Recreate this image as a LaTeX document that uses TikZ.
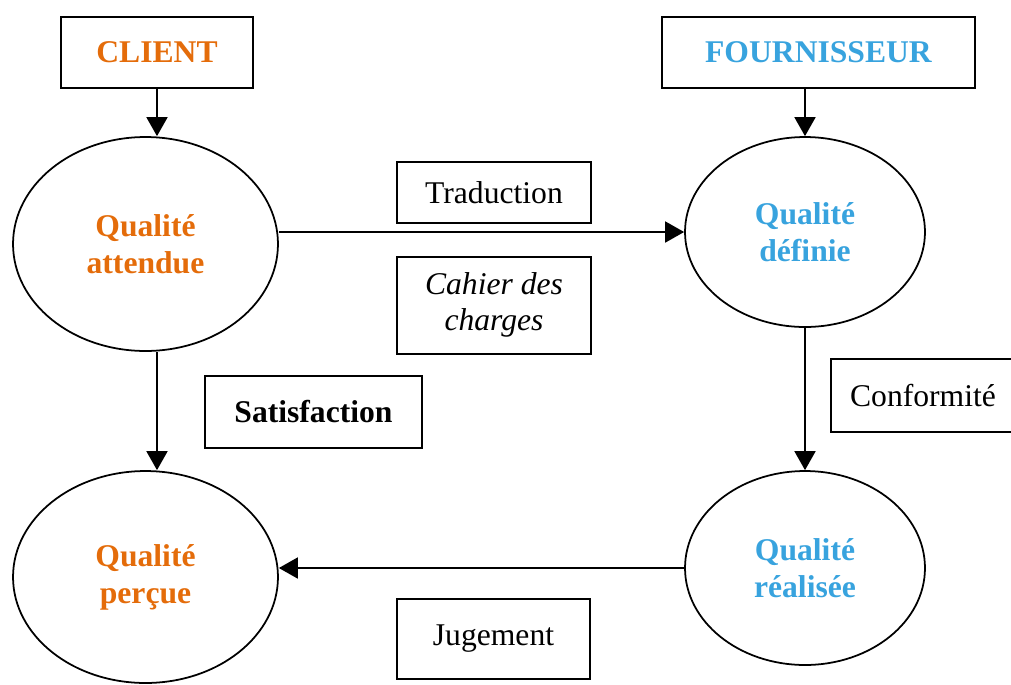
\documentclass[tikz,border=0pt]{standalone}
\usepackage{fontspec}
\setmainfont{Liberation Serif}
\usetikzlibrary{positioning, shapes.geometric, arrows.meta}

\definecolor{clientorange}{RGB}{228,108,10}
\definecolor{fournblue}{RGB}{56,163,222}

\begin{document}
\begin{tikzpicture}[
    x=0.02cm, y=-0.02cm,
    >={Triangle[length=0.38cm, width=0.42cm]},
    every node/.style={font=\fontsize{18}{21}\selectfont},
    % Styles
    actor/.style={ % Client / supplier boxes
        rectangle,
        draw,
        line width=1pt,
        minimum height=1.42cm,
        font=\fontsize{18}{21}\selectfont\bfseries
    },
    quality/.style={ % Quality ellipses
        ellipse,
        draw,
        line width=1pt,
        inner sep=0pt,
        align=center,
        font=\fontsize{18}{21}\selectfont\bfseries
    },
    step label/.style={ % Labels of the arrows
        rectangle,
        draw,
        line width=1pt,
        align=center,
        inner sep=0pt
    },
    arrow/.style={
        ->,
        line width=1pt
    }
]

    % Background frame
    \useasboundingbox (0,0) rectangle (1011,684);

    % Actors
    \node[actor, minimum width=3.84cm, text=clientorange] (client) at (157,52.5) {CLIENT};
    \node[actor, minimum width=6.26cm, text=fournblue] (fourn) at (818.5,52.5) {FOURNISSEUR};

    % Qualities
    \node[quality, minimum width=5.3cm, minimum height=4.28cm, text=clientorange]
        (attendue) at (145.5,244) {Qualité\\attendue};
    \node[quality, minimum width=4.8cm, minimum height=3.8cm, text=fournblue]
        (definie) at (805,232) {Qualité\\définie};
    \node[quality, minimum width=4.8cm, minimum height=3.88cm, text=fournblue]
        (realisee) at (805,568) {Qualité\\réalisée};
    \node[quality, minimum width=5.3cm, minimum height=4.24cm, text=clientorange]
        (percue) at (145.5,577) {Qualité\\perçue};

    % Arrows
    \draw[arrow] (client.south) -- (client.south |- attendue.north);
    \draw[arrow] (fourn.south -| definie.north) -- (definie.north);
    \draw[arrow] (definie.west -| attendue.east) -- (definie.west);
    \draw[arrow] (definie.south) -- (realisee.north);
    \draw[arrow] (realisee.west) -- (realisee.west -| percue.east);
    \draw[arrow] (client.south |- attendue.south) -- (client.south |- percue.north);

    % Labels
    \node[step label, minimum width=3.88cm, minimum height=1.22cm] (trad) at (494,192.5) {Traduction};
    \node[step label, minimum width=3.88cm, minimum height=1.94cm, below=0.64cm of trad,
        font=\fontsize{18}{20.5}\selectfont\itshape] (cahier) {Cahier des\\charges};
    \node[step label, minimum width=4.34cm, minimum height=1.44cm, font=\fontsize{18}{21}\selectfont\bfseries]
        (satisf) at (313.5,412) {Satisfaction};
    \node[step label, minimum width=3.68cm, minimum height=1.46cm] (conform) at (923,395.5) {Conformité};
    \node[step label, minimum width=3.86cm, minimum height=1.6cm] (jugement) at (493.5,639) {Jugement};

\end{tikzpicture}
\end{document}
